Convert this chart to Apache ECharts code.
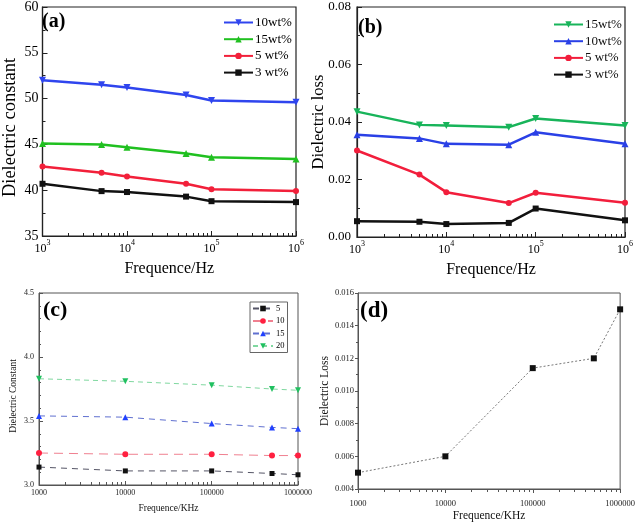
<!DOCTYPE html>
<html>
<head>
<meta charset="utf-8">
<script src="https://cdn.jsdelivr.net/npm/echarts@6/dist/echarts.min.js"></script>
<style>
html,body{margin:0;padding:0;background:#fff;}
#c{width:638px;height:523px;}
</style>
</head>
<body>
<div id="c"></div>
<script>
// ---- data ----
const freqAB = [1000, 5000, 10000, 50000, 100000, 1000000];
const epsA_10 = [52.0, 51.5, 51.2, 50.4, 49.8, 49.6];
const epsA_15 = [45.1, 45.0, 44.7, 44.0, 43.6, 43.4];
const epsA_5 = [42.6, 41.9, 41.5, 40.7, 40.1, 39.9];
const epsA_3 = [40.7, 39.9, 39.8, 39.3, 38.8, 38.7];

const lossB_15 = [0.0436, 0.0390, 0.0388, 0.0382, 0.0412, 0.0388];
const lossB_10 = [0.0356, 0.0343, 0.0324, 0.0321, 0.0364, 0.0324];
const lossB_5 = [0.0301, 0.0217, 0.0156, 0.0118, 0.0154, 0.0119];
const lossB_3 = [0.0055, 0.0053, 0.0045, 0.0049, 0.0099, 0.0058];

const freqCD = [1000, 10000, 100000, 500000, 1000000];
const epsC_5 = [3.14, 3.11, 3.11, 3.09, 3.08];
const epsC_10 = [3.25, 3.24, 3.24, 3.23, 3.23];
const epsC_15 = [3.54, 3.53, 3.48, 3.45, 3.44];
const epsC_20 = [3.83, 3.81, 3.78, 3.75, 3.74];

const lossD = [0.0050, 0.0060, 0.0114, 0.0120, 0.0150];

const decadeTicks = [1000, 10000, 100000, 1000000];
const minorTicks = [2000,3000,4000,5000,6000,7000,8000,9000,
  20000,30000,40000,50000,60000,70000,80000,90000,
  200000,300000,400000,500000,600000,700000,800000,900000];
const legendA = ['10wt%', '15wt%', '5 wt%', '3 wt%'];
const legendB = ['15wt%', '10wt%', '5 wt%', '3 wt%'];
const legendC = ['5', '10', '15', '20'];

// ---- chart ----
const SERIF = 'Liberation Serif';
const chart = echarts.init(document.getElementById('c'), null, {renderer: 'canvas'});
const pairs = (xs, ys) => xs.map((x, i) => [x, ys[i]]);
const tag = (p, n) => p + '|' + n;
const untag = n => n.split('|')[1];
const minorLog = minorTicks.map(v => Math.log10(v));

const grids = [
  {left: 39, top: 7, width: 257, height: 229},
  {left: 357, top: 7, width: 268, height: 230},
  {left: 39, top: 293, width: 259, height: 192},
  {left: 358, top: 293, width: 267, height: 197}
].map(g => Object.assign(g, {show: true, borderColor: '#222', borderWidth: 1.2, backgroundColor: 'transparent', containLabel: false}));
grids[2].borderColor = '#555'; grids[2].borderWidth = 1;
grids[3].borderColor = '#555'; grids[3].borderWidth = 1;

function supFmt(v) { return '{b|10}{s|' + Math.round(Math.log10(v)) + '}'; }

function mainX(gi, opts) {
  return Object.assign({
    type: 'log', logBase: 10, min: 1000, max: 1000000, gridIndex: gi, position: 'bottom',
    nameMoveOverlap: false,
    axisLine: {show: true, lineStyle: {color: '#222', width: 1.2}},
    axisTick: {show: true, inside: true, length: 5, customValues: decadeTicks, lineStyle: {color: '#222'}},
    splitLine: {show: false}, minorTick: {show: false}
  }, opts);
}
// minor log ticks: a linear axis spanning log10 of the same range, ticks only
function minorX(gi, inside, color) {
  return {
    type: 'value', min: 3, max: 6, gridIndex: gi, position: 'bottom',
    axisLine: {show: false}, axisLabel: {show: false}, splitLine: {show: false},
    axisTick: {show: true, inside: inside, length: 3, customValues: minorLog, lineStyle: {color: color}}
  };
}

const option = {
  backgroundColor: '#fff',
  animation: false,
  grid: grids,
  title: [
    {text: '(a)', left: 42, top: 12, padding: 0, textStyle: {fontFamily: SERIF, fontWeight: 'bold', fontSize: 20, color: '#000'}},
    {text: '(b)', left: 358, top: 18, padding: 0, textStyle: {fontFamily: SERIF, fontWeight: 'bold', fontSize: 20, color: '#000'}},
    {text: '(c)', left: 43, top: 299, padding: 0, textStyle: {fontFamily: SERIF, fontWeight: 'bold', fontSize: 22, color: '#000'}},
    {text: '(d)', left: 360, top: 300, padding: 0, textStyle: {fontFamily: SERIF, fontWeight: 'bold', fontSize: 23, color: '#000'}}
  ],
  legend: [
    {data: legendA.map(n => tag('a', n)), formatter: untag, left: 223, top: 16, orient: 'vertical', padding: 0, itemGap: 3.7, itemWidth: 29, itemHeight: 8,
     textStyle: {fontFamily: SERIF, fontSize: 13, color: '#000', padding: [0,0,0,-3]}},
    {data: legendB.map(n => tag('b', n)), formatter: untag, left: 553, top: 18, orient: 'vertical', padding: 0, itemGap: 3.7, itemWidth: 29, itemHeight: 8,
     textStyle: {fontFamily: SERIF, fontSize: 13, color: '#111', padding: [0,0,0,-3]}},
    {data: legendC.map(n => tag('c', n)), formatter: untag, left: 250, top: 302, orient: 'vertical', padding: [2,3,2,2], itemGap: 3.5, itemWidth: 20, itemHeight: 7,
     borderColor: '#666', borderWidth: 1, textStyle: {fontFamily: SERIF, fontSize: 8.5, color: '#000', padding: [0,0,0,-2]}}
  ],
  xAxis: [
    mainX(0, {name: 'Frequence/Hz', nameLocation: 'middle', nameGap: 25,
      nameTextStyle: {fontFamily: SERIF, fontSize: 16, color: '#000'},
      axisLabel: {customValues: decadeTicks, margin: 3, formatter: supFmt, fontFamily: SERIF, color: '#000',
        rich: {b: {fontFamily: SERIF, fontSize: 12, color: '#000', verticalAlign: 'bottom', padding: [4,0,0,0]},
               s: {fontFamily: SERIF, fontSize: 8, color: '#000', verticalAlign: 'top'}}}}),
    minorX(0, true, '#222'),
    mainX(1, {name: 'Frequence/Hz', nameLocation: 'middle', nameGap: 25,
      nameTextStyle: {fontFamily: SERIF, fontSize: 16, color: '#000'},
      axisLabel: {customValues: decadeTicks, margin: 3, formatter: supFmt, fontFamily: SERIF, color: '#000',
        rich: {b: {fontFamily: SERIF, fontSize: 12, color: '#000', verticalAlign: 'bottom', padding: [4,0,0,0]},
               s: {fontFamily: SERIF, fontSize: 8, color: '#000', verticalAlign: 'top'}}}}),
    minorX(1, true, '#222'),
    mainX(2, {name: 'Frequence/KHz', nameLocation: 'middle', nameGap: 18,
      nameTextStyle: {fontFamily: SERIF, fontSize: 9.5, color: '#111'},
      axisLine: {show: true, lineStyle: {color: '#555', width: 1}},
      axisTick: {show: true, inside: true, length: 4, customValues: decadeTicks, lineStyle: {color: '#555'}},
      axisLabel: {customValues: decadeTicks, margin: 4, fontFamily: SERIF, fontSize: 8, color: '#222', formatter: v => String(Math.round(v))}}),
    minorX(2, true, '#555'),
    mainX(3, {name: 'Frequence/KHz', nameLocation: 'middle', nameGap: 21,
      nameTextStyle: {fontFamily: SERIF, fontSize: 11.5, color: '#111'},
      axisLine: {show: true, lineStyle: {color: '#555', width: 1}},
      axisTick: {show: true, inside: false, length: 4, customValues: decadeTicks, lineStyle: {color: '#555'}},
      axisLabel: {customValues: decadeTicks, margin: 10, fontFamily: SERIF, fontSize: 8.5, color: '#222', formatter: v => String(Math.round(v))}}),
    minorX(3, false, '#555')
  ],
  yAxis: [
    {type: 'value', gridIndex: 0, min: 35, max: 60, interval: 5,
     name: 'Dielectric constant', nameLocation: 'middle', nameGap: 22.5, nameMoveOverlap: false,
     nameTextStyle: {fontFamily: SERIF, fontSize: 18.5, color: '#000', padding: [0, 12, 0, 0]},
     axisLine: {show: true, lineStyle: {color: '#222', width: 1.2}},
     axisTick: {inside: true, length: 5, lineStyle: {color: '#222'}},
     minorTick: {show: true, splitNumber: 2, length: 3, lineStyle: {color: '#222'}},
     splitLine: {show: false},
     axisLabel: {margin: 4, fontFamily: SERIF, fontSize: 14, color: '#000'}},
    {type: 'value', gridIndex: 1, min: 0, max: 0.08, interval: 0.02,
     name: 'Dielectric loss', nameLocation: 'middle', nameGap: 30, nameMoveOverlap: false,
     nameTextStyle: {fontFamily: SERIF, fontSize: 16.5, color: '#000'},
     axisLine: {show: true, lineStyle: {color: '#222', width: 1.2}},
     axisTick: {inside: true, length: 5, lineStyle: {color: '#222'}},
     minorTick: {show: true, splitNumber: 2, length: 3, lineStyle: {color: '#222'}},
     splitLine: {show: false},
     axisLabel: {margin: 6, fontFamily: SERIF, fontSize: 13, color: '#000', formatter: v => v.toFixed(2)}},
    {type: 'value', gridIndex: 2, min: 3.0, max: 4.5, interval: 0.5,
     name: 'Dielectric Constant', nameLocation: 'middle', nameGap: 21, nameMoveOverlap: false,
     nameTextStyle: {fontFamily: SERIF, fontSize: 9.5, color: '#111', padding: [0, 14, 0, 0]},
     axisLine: {show: true, lineStyle: {color: '#555', width: 1}},
     axisTick: {inside: true, length: 4, lineStyle: {color: '#555'}},
     minorTick: {show: true, splitNumber: 5, length: 2, lineStyle: {color: '#555'}},
     splitLine: {show: false},
     axisLabel: {margin: 5, fontFamily: SERIF, fontSize: 8, color: '#222', formatter: v => v.toFixed(1)}},
    {type: 'value', gridIndex: 3, min: 0.004, max: 0.016, interval: 0.002,
     name: 'Dielectric Loss', nameLocation: 'middle', nameGap: 27, nameMoveOverlap: false,
     nameTextStyle: {fontFamily: SERIF, fontSize: 11.5, color: '#111'},
     axisLine: {show: true, lineStyle: {color: '#555', width: 1}},
     axisTick: {inside: false, length: 3, lineStyle: {color: '#555'}},
     minorTick: {show: true, splitNumber: 2, length: 2, lineStyle: {color: '#555'}},
     splitLine: {show: false},
     axisLabel: {margin: 4, fontFamily: SERIF, fontSize: 8.5, color: '#222', formatter: v => v.toFixed(3)}}
  ],
  series: [
    // (a)
    {name: tag('a', '10wt%'), type: 'line', xAxisIndex: 0, yAxisIndex: 0, data: pairs(freqAB, epsA_10),
     symbol: 'triangle', symbolRotate: 180, symbolSize: 7, color: '#2f45ee', lineStyle: {width: 2.5}},
    {name: tag('a', '15wt%'), type: 'line', xAxisIndex: 0, yAxisIndex: 0, data: pairs(freqAB, epsA_15),
     symbol: 'triangle', symbolSize: 7, color: '#20c020', lineStyle: {width: 2.5}},
    {name: tag('a', '5 wt%'), type: 'line', xAxisIndex: 0, yAxisIndex: 0, data: pairs(freqAB, epsA_5),
     symbol: 'circle', symbolSize: 6, color: '#f2203a', lineStyle: {width: 2.5}},
    {name: tag('a', '3 wt%'), type: 'line', xAxisIndex: 0, yAxisIndex: 0, data: pairs(freqAB, epsA_3),
     symbol: 'rect', symbolSize: 6, color: '#111111', lineStyle: {width: 2.5}},
    // (b)
    {name: tag('b', '15wt%'), type: 'line', xAxisIndex: 2, yAxisIndex: 1, data: pairs(freqAB, lossB_15),
     symbol: 'triangle', symbolRotate: 180, symbolSize: 7, color: '#18b45a', lineStyle: {width: 2.5}},
    {name: tag('b', '10wt%'), type: 'line', xAxisIndex: 2, yAxisIndex: 1, data: pairs(freqAB, lossB_10),
     symbol: 'triangle', symbolSize: 7, color: '#2a40e6', lineStyle: {width: 2.5}},
    {name: tag('b', '5 wt%'), type: 'line', xAxisIndex: 2, yAxisIndex: 1, data: pairs(freqAB, lossB_5),
     symbol: 'circle', symbolSize: 6, color: '#f21e3c', lineStyle: {width: 2.5}},
    {name: tag('b', '3 wt%'), type: 'line', xAxisIndex: 2, yAxisIndex: 1, data: pairs(freqAB, lossB_3),
     symbol: 'rect', symbolSize: 6, color: '#111111', lineStyle: {width: 2.5}},
    // (c)
    {name: tag('c', '5'), type: 'line', xAxisIndex: 4, yAxisIndex: 2, data: pairs(freqCD, epsC_5),
     symbol: 'rect', symbolSize: 5, color: '#111111', lineStyle: {width: 1, type: [6, 5], color: '#556'}},
    {name: tag('c', '10'), type: 'line', xAxisIndex: 4, yAxisIndex: 2, data: pairs(freqCD, epsC_10),
     symbol: 'circle', symbolSize: 6, color: '#ff2040', lineStyle: {width: 1, type: [9, 6], color: '#f08090'}},
    {name: tag('c', '15'), type: 'line', xAxisIndex: 4, yAxisIndex: 2, data: pairs(freqCD, epsC_15),
     symbol: 'triangle', symbolSize: 6, color: '#2040ff', lineStyle: {width: 1, type: [6, 5], color: '#6070d0'}},
    {name: tag('c', '20'), type: 'line', xAxisIndex: 4, yAxisIndex: 2, data: pairs(freqCD, epsC_20),
     symbol: 'triangle', symbolRotate: 180, symbolSize: 6, color: '#20c060', lineStyle: {width: 1, type: [5, 4], color: '#80d8a0'}},
    // (d)
    {name: 'd|loss', type: 'line', xAxisIndex: 6, yAxisIndex: 3, data: pairs(freqCD, lossD),
     symbol: 'rect', symbolSize: 6, color: '#111111', lineStyle: {width: 1, type: [2, 2], color: '#777'}}
  ]
};
chart.setOption(option);
</script>
</body>
</html>
